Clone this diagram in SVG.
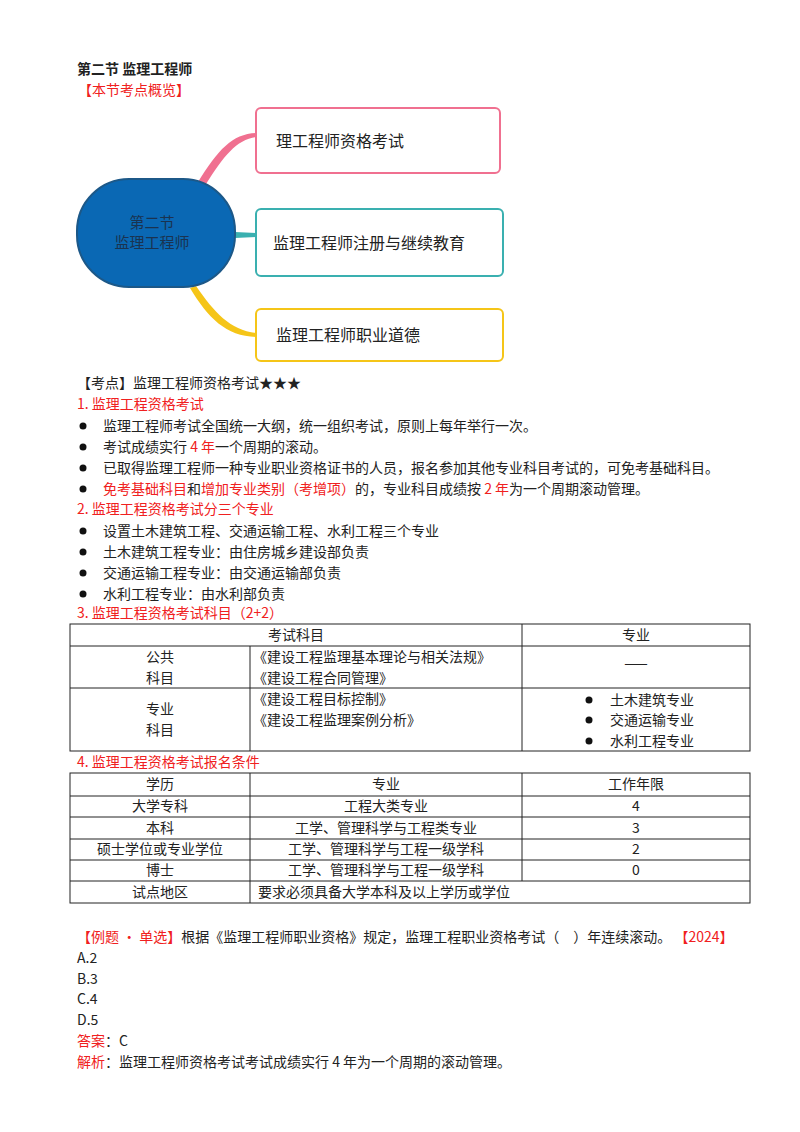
<svg xmlns="http://www.w3.org/2000/svg" width="800" height="1132" viewBox="0 0 800 1132">
<style>
text{font-family:"Noto Sans CJK SC","Liberation Serif",serif;font-size:14px;fill:#222}
.r{fill:#f02020}
.b{font-weight:bold}
.m{font-size:16px}
.c{text-anchor:middle}
.ln{stroke:#222;stroke-width:1;fill:none}
.box{fill:#fff;stroke-width:2}
</style>
<rect width="800" height="1132" fill="#fff"/>
<text x="77" y="74" class="b">第二节 监理工程师</text>
<text x="78" y="95" class="r">【本节考点概览】</text>
<g id="connectors">
<path d="M198,182 C218,150 232,134 256,133 L256,137 C236,140 224,156 206,184 Z" fill="#f07090"/>
<path d="M235,232 L256,233 L256,237 L235,238 Z" fill="#3ab0b0"/>
<path d="M196,286 C214,312 230,330 256,333 L256,337 C226,336 208,318 190,288 Z" fill="#f5c518"/>
</g>
<g id="center">
<rect x="77" y="179" width="158" height="108" rx="52" fill="#0a68b4" stroke="#1c5888" stroke-width="2"/>
<text x="152" y="228" class="c" style="font-size:15px;fill:#1a3350">第二节</text>
<text x="152" y="248" class="c" style="font-size:15px;fill:#1a3350">监理工程师</text>
</g>
<g id="n1"><rect x="256" y="108" width="244" height="65" rx="5" class="box" stroke="#f07090"/><text x="276" y="147" class="m">理工程师资格考试</text></g>
<g id="n2"><rect x="256" y="209" width="247" height="67" rx="5" class="box" stroke="#3ab0b0"/><text x="273" y="249" class="m">监理工程师注册与继续教育</text></g>
<g id="n3"><rect x="256" y="309" width="247" height="52" rx="5" class="box" stroke="#f5c518"/><text x="276" y="341" class="m">监理工程师职业道德</text></g>
<text x="77" y="388">【考点】监理工程师资格考试★★★</text>
<text x="77" y="409" class="r">1. 监理工程资格考试</text>
<g>
<circle cx="83" cy="426" r="3.5" fill="#111"/><text x="103" y="431">监理工程师考试全国统一大纲，统一组织考试，原则上每年举行一次。</text>
<circle cx="83" cy="447" r="3.5" fill="#111"/><text x="103" y="452">考试成绩实行 <tspan class="r">4 年</tspan>一个周期的滚动。</text>
<circle cx="83" cy="468" r="3.5" fill="#111"/><text x="103" y="473">已取得监理工程师一种专业职业资格证书的人员，报名参加其他专业科目考试的，可免考基础科目。</text>
<circle cx="83" cy="489" r="3.5" fill="#111"/><text x="103" y="494"><tspan class="r">免考基础科目</tspan>和<tspan class="r">增加专业类别（考增项）</tspan>的，专业科目成绩按 <tspan class="r">2 年</tspan>为一个周期滚动管理。</text>
</g>
<text x="77" y="514" class="r">2. 监理工程资格考试分三个专业</text>
<g>
<circle cx="83" cy="531" r="3.5" fill="#111"/><text x="103" y="536">设置土木建筑工程、交通运输工程、水利工程三个专业</text>
<circle cx="83" cy="552" r="3.5" fill="#111"/><text x="103" y="557">土木建筑工程专业：由住房城乡建设部负责</text>
<circle cx="83" cy="573" r="3.5" fill="#111"/><text x="103" y="578">交通运输工程专业：由交通运输部负责</text>
<circle cx="83" cy="594" r="3.5" fill="#111"/><text x="103" y="599">水利工程专业：由水利部负责</text>
</g>
<text x="77" y="618" class="r">3. 监理工程资格考试科目（2+2）</text>
<g id="table1">
<rect x="70" y="624" width="680" height="127" class="ln"/>
<line x1="70" y1="646" x2="750" y2="646" class="ln"/>
<line x1="70" y1="688" x2="750" y2="688" class="ln"/>
<line x1="522" y1="624" x2="522" y2="751" class="ln"/>
<line x1="250" y1="646" x2="250" y2="751" class="ln"/>
<text x="296" y="640" class="c">考试科目</text>
<text x="636" y="640" class="c">专业</text>
<text x="160" y="662" class="c">公共</text>
<text x="160" y="683" class="c">科目</text>
<text x="253" y="662">《建设工程监理基本理论与相关法规》</text>
<text x="253" y="683">《建设工程合同管理》</text>
<text x="636" y="668" class="c">——</text>
<text x="160" y="714" class="c">专业</text>
<text x="160" y="735" class="c">科目</text>
<text x="253" y="704">《建设工程目标控制》</text>
<text x="253" y="725">《建设工程监理案例分析》</text>
<circle cx="589" cy="700" r="3.5" fill="#111"/><text x="610" y="705">土木建筑专业</text>
<circle cx="589" cy="720" r="3.5" fill="#111"/><text x="610" y="725">交通运输专业</text>
<circle cx="589" cy="741" r="3.5" fill="#111"/><text x="610" y="746">水利工程专业</text>
</g>
<text x="77" y="767" class="r">4. 监理工程资格考试报名条件</text>
<g id="table2">
<rect x="70" y="773" width="680" height="130" class="ln"/>
<line x1="70" y1="796" x2="750" y2="796" class="ln"/>
<line x1="70" y1="817" x2="750" y2="817" class="ln"/>
<line x1="70" y1="839" x2="750" y2="839" class="ln"/>
<line x1="70" y1="860" x2="750" y2="860" class="ln"/>
<line x1="70" y1="881" x2="750" y2="881" class="ln"/>
<line x1="250" y1="773" x2="250" y2="903" class="ln"/>
<line x1="522" y1="773" x2="522" y2="881" class="ln"/>
<text x="160" y="789" class="c">学历</text><text x="386" y="789" class="c">专业</text><text x="636" y="789" class="c">工作年限</text>
<text x="160" y="811" class="c">大学专科</text><text x="386" y="811" class="c">工程大类专业</text><text x="636" y="811" class="c">4</text>
<text x="160" y="833" class="c">本科</text><text x="386" y="833" class="c">工学、管理科学与工程类专业</text><text x="636" y="833" class="c">3</text>
<text x="160" y="854" class="c">硕士学位或专业学位</text><text x="386" y="854" class="c">工学、管理科学与工程一级学科</text><text x="636" y="854" class="c">2</text>
<text x="160" y="875" class="c">博士</text><text x="386" y="875" class="c">工学、管理科学与工程一级学科</text><text x="636" y="875" class="c">0</text>
<text x="160" y="897" class="c">试点地区</text><text x="258" y="897">要求必须具备大学本科及以上学历或学位</text>
</g>
<text x="77" y="942"><tspan class="r">【例题 • 单选】</tspan>根据《监理工程师职业资格》规定，监理工程职业资格考试（　）年连续滚动。 <tspan class="r">【2024】</tspan></text>
<text x="77" y="963">A.2</text>
<text x="77" y="984">B.3</text>
<text x="77" y="1004">C.4</text>
<text x="77" y="1025">D.5</text>
<text x="77" y="1046"><tspan class="r">答案</tspan>：C</text>
<text x="77" y="1067"><tspan class="r">解析</tspan>：监理工程师资格考试考试成绩实行 4 年为一个周期的滚动管理。</text>
</svg>
